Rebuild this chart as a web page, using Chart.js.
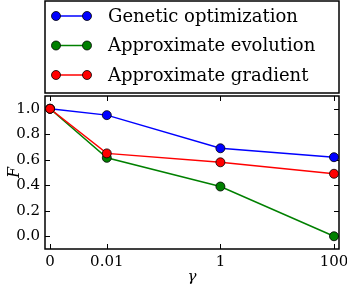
<!DOCTYPE html>
<html>
<head>
<meta charset="utf-8">
<script src="https://cdn.jsdelivr.net/npm/chart.js@4"></script>
<style>
  html, body { margin: 0; padding: 0; background: #fff; }
  #wrap { width: 347px; height: 284px; position: relative; }
</style>
</head>
<body>
<div id="wrap"><canvas id="chart" width="347" height="284"></canvas></div>
<script>
// gamma values and where they sit on the log axis (0 is drawn a decade below 0.01)
const gammaLabels = ["0", "0.01", "1", "100"];
const gammaPos = [0.001, 0.01, 1, 100];

const geneticOpt = [1.0, 0.95, 0.69, 0.62];
const approxEvolution = [1.0, 0.615, 0.39, 0.0];
const approxGradient = [1.0, 0.65, 0.58, 0.49];

const yTicks = [0.0, 0.2, 0.4, 0.6, 0.8, 1.0];

const serif = "'DejaVu Serif', 'Liberation Serif', serif";

function points(vals) {
  return vals.map((v, i) => ({ x: gammaPos[i], y: v }));
}

function series(label, color, vals, order) {
  return {
    label: label,
    data: points(vals),
    borderColor: color,
    backgroundColor: color,
    borderWidth: 1.5,
    pointRadius: 4.5,
    pointHoverRadius: 4.5,
    pointBorderColor: "#000",
    pointBorderWidth: 0.8,
    pointBackgroundColor: color,
    tension: 0,
    order: order,
    clip: false,
  };
}

/* Frame, inward tick marks on all sides, and the boxed legend. */
const framePlugin = {
  id: "frame",
  beforeDatasetsDraw(chart) {
    const ctx = chart.ctx;
    const a = chart.chartArea;
    const xs = chart.scales.x;
    const ys = chart.scales.y;
    ctx.save();
    ctx.strokeStyle = "#000";
    ctx.lineWidth = 1;
    gammaPos.forEach((p) => {
      let x = Math.round(xs.getPixelForValue(p)) + 0.5;
      ctx.beginPath();
      ctx.moveTo(x, a.bottom);
      ctx.lineTo(x, a.bottom - 5);
      ctx.moveTo(x, a.top);
      ctx.lineTo(x, a.top + 5);
      ctx.stroke();
    });
    yTicks.forEach((t) => {
      let y = Math.round(ys.getPixelForValue(t)) + 0.5;
      ctx.beginPath();
      ctx.moveTo(a.left, y);
      ctx.lineTo(a.left + 5, y);
      ctx.moveTo(a.right, y);
      ctx.lineTo(a.right - 5, y);
      ctx.stroke();
    });
    ctx.lineWidth = 1.5;
    ctx.strokeRect(a.left, a.top, a.right - a.left, a.bottom - a.top);
    ctx.restore();
  },
  afterDraw(chart) {
    const ctx = chart.ctx;
    const a = chart.chartArea;
    ctx.save();
    ctx.strokeStyle = "#000";
    ctx.lineWidth = 1.5;
    ctx.fillStyle = "#fff";
    ctx.fillRect(a.left, 1, a.right - a.left, 92);
    ctx.strokeRect(a.left, 1, a.right - a.left, 92);
    ctx.font = "18px " + serif;
    ctx.textBaseline = "middle";
    chart.data.datasets.forEach((ds, i) => {
      let y = 16 + i * 29.5;
      ctx.strokeStyle = ds.borderColor;
      ctx.lineWidth = 1.5;
      ctx.beginPath();
      ctx.moveTo(56, y);
      ctx.lineTo(87, y);
      ctx.stroke();
      [56, 87].forEach((x) => {
        ctx.beginPath();
        ctx.arc(x, y, 4.5, 0, Math.PI * 2);
        ctx.fillStyle = ds.borderColor;
        ctx.fill();
        ctx.lineWidth = 0.8;
        ctx.strokeStyle = "#000";
        ctx.stroke();
      });
      ctx.fillStyle = "#000";
      ctx.fillText(ds.label, 108, y + 1);
    });
    ctx.restore();
  },
};

new Chart(document.getElementById("chart"), {
  type: "line",
  data: {
    datasets: [
      series("Genetic optimization", "#0000ff", geneticOpt, 3),
      series("Approximate evolution", "#008000", approxEvolution, 2),
      series("Approximate gradient", "#ff0000", approxGradient, 1),
    ],
  },
  options: {
    responsive: false,
    animation: false,
    devicePixelRatio: 1,
    layout: { padding: { top: 96, right: 8, left: 0, bottom: 0 } },
    plugins: { legend: { display: false }, tooltip: { enabled: false } },
    scales: {
      x: {
        type: "logarithmic",
        min: 0.000816,
        max: 122.5,
        grid: { display: false, drawTicks: false },
        border: { display: false },
        afterBuildTicks: (s) => {
          s.ticks = gammaPos.map((v) => ({ value: v }));
        },
        afterFit: (s) => {
          s.height = 35;
          s.paddingLeft = 0;
          s.paddingRight = 0;
        },
        ticks: {
          padding: 4,
          color: "#000",
          font: { family: serif, size: 15 },
          maxRotation: 0,
          autoSkip: false,
          callback: (v) => gammaLabels[gammaPos.indexOf(v)],
        },
        title: {
          display: true,
          text: "γ",
          color: "#000",
          padding: { top: 0, bottom: -2 },
          font: { family: serif, size: 15, style: "italic" },
        },
      },
      y: {
        min: -0.1,
        max: 1.1,
        grid: { display: false, drawTicks: false },
        border: { display: false },
        afterBuildTicks: (s) => {
          s.ticks = yTicks.map((v) => ({ value: v }));
        },
        afterFit: (s) => {
          s.width = 45;
          s.paddingTop = 0;
          s.paddingBottom = 0;
        },
        ticks: {
          padding: 5,
          color: "#000",
          font: { family: serif, size: 15 },
          callback: (v) => v.toFixed(1),
        },
        title: {
          display: true,
          text: "F",
          color: "#000",
          padding: { top: 5, bottom: 0 },
          font: { family: serif, size: 16, style: "italic" },
        },
      },
    },
  },
  plugins: [framePlugin],
});
</script>
</body>
</html>
